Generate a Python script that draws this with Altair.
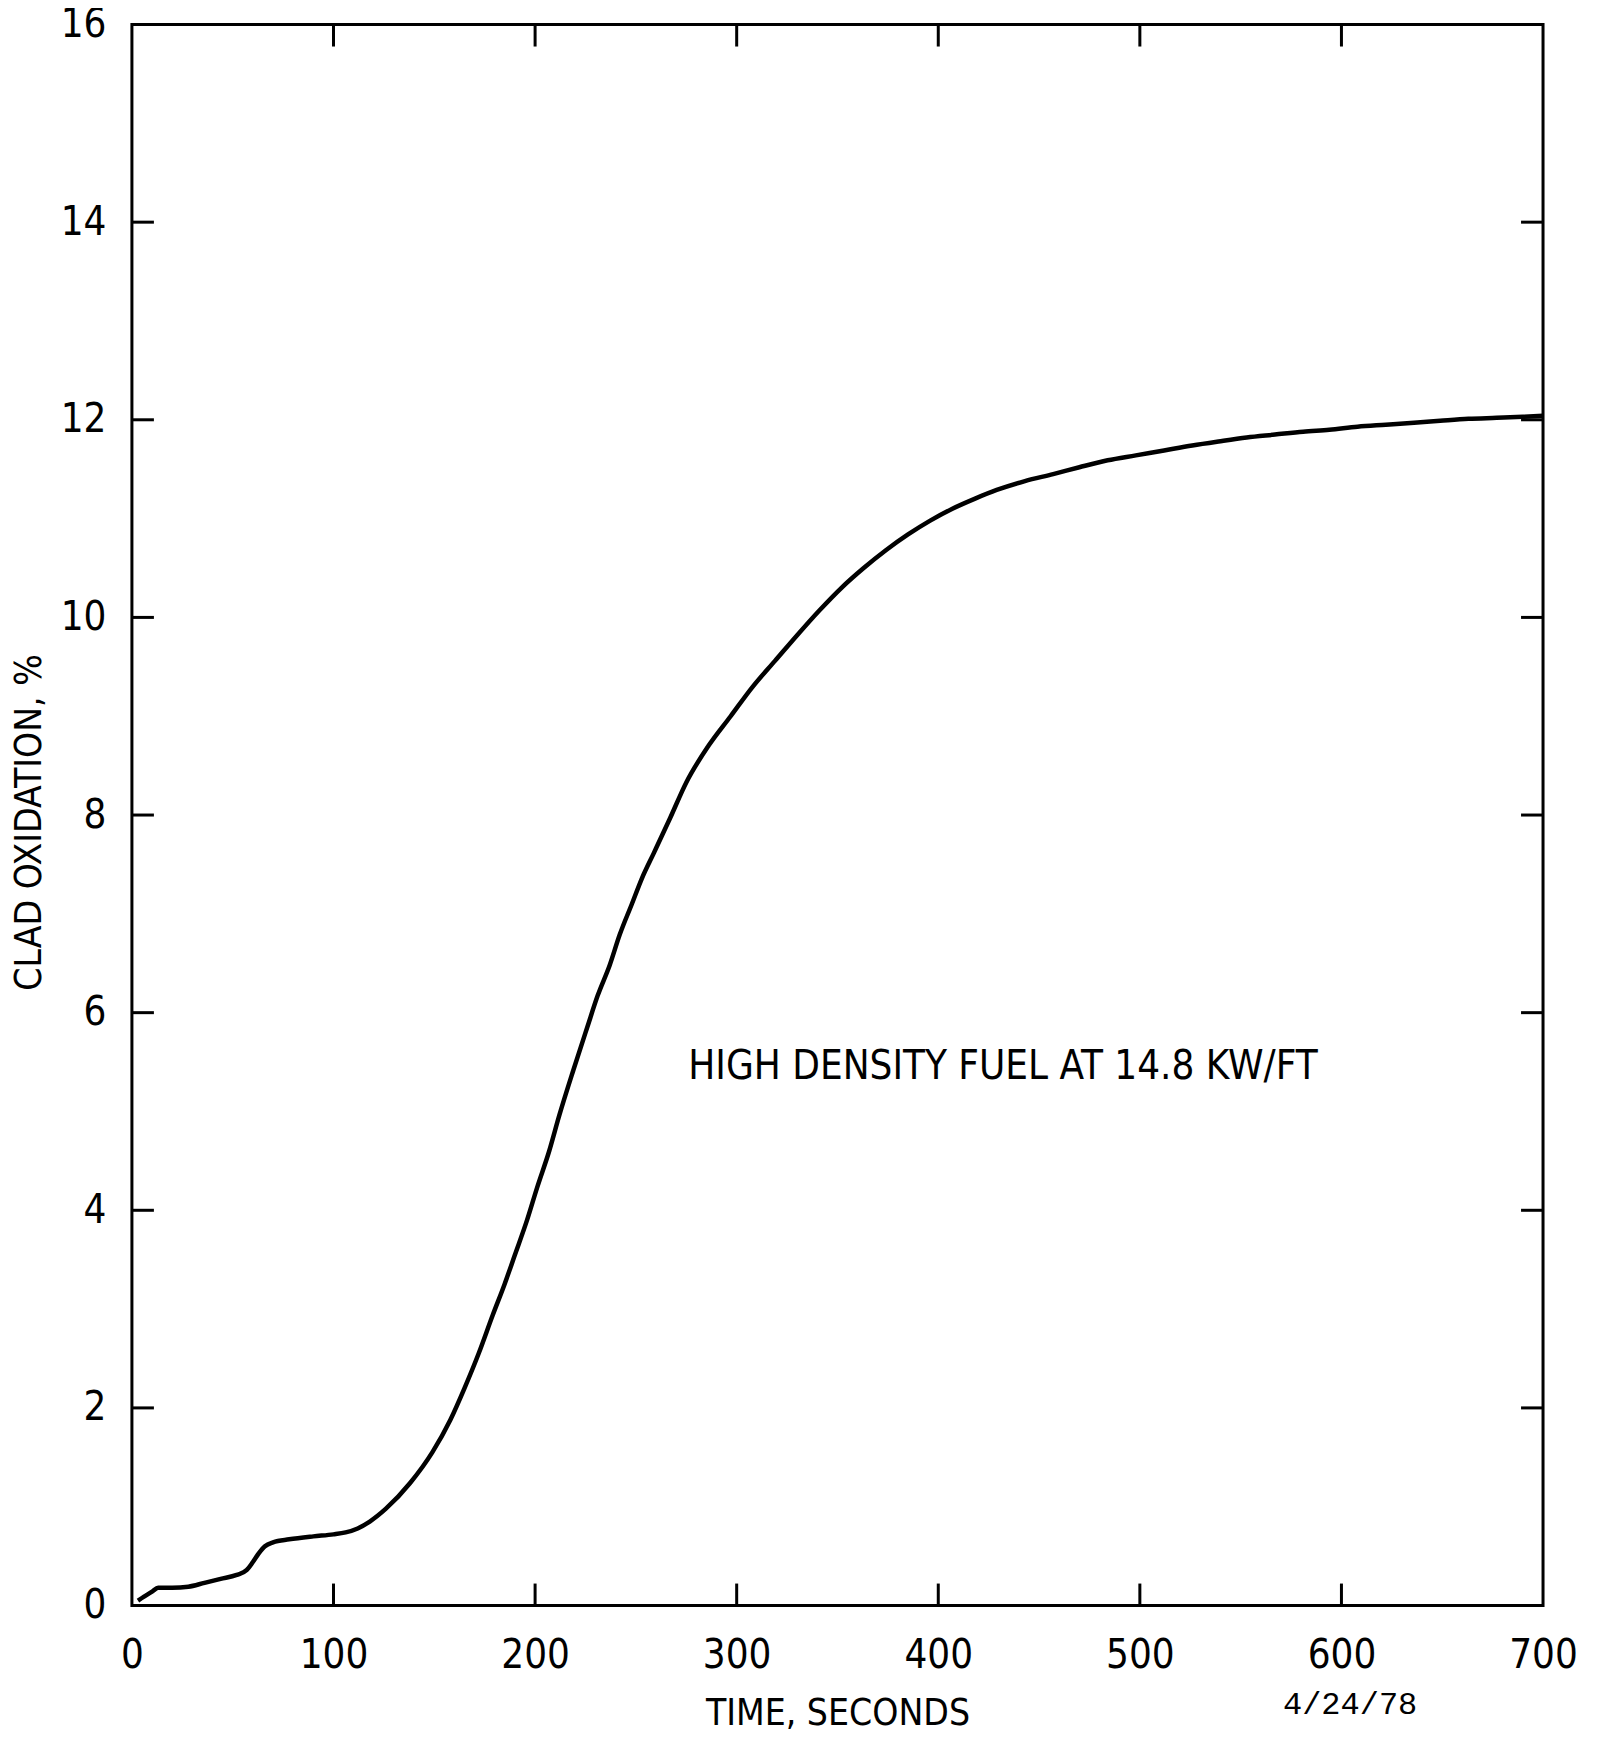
import altair as alt
import pandas as pd

# Curve (time in s, clad oxidation in %)
time_s = [3, 6, 10, 13, 20, 28, 36, 44, 52, 57, 60, 63, 66, 70, 78, 90, 100, 106, 112,
          118, 126, 138, 149, 158, 165, 172, 179, 185, 190, 196, 201, 207, 212, 219,
          226, 231, 237, 242, 248, 253, 259, 267, 275, 286, 297, 308, 319, 330, 341,
          352, 363, 374, 385, 396, 407, 418, 429, 443, 457, 470, 484, 498, 512, 526,
          539, 553, 567, 581, 594, 608, 622, 636, 649, 663, 677, 690, 700]
oxid_pct = [0.05, 0.09, 0.14, 0.18, 0.18, 0.19, 0.23, 0.27, 0.31, 0.36, 0.44, 0.53, 0.60,
            0.64, 0.67, 0.70, 0.72, 0.74, 0.78, 0.85, 0.98, 1.24, 1.55, 1.88, 2.20, 2.55,
            2.94, 3.26, 3.55, 3.90, 4.23, 4.60, 4.96, 5.42, 5.86, 6.17, 6.48, 6.79, 7.10,
            7.36, 7.62, 7.97, 8.33, 8.70, 9.00, 9.30, 9.56, 9.82, 10.07, 10.30, 10.50,
            10.68, 10.84, 10.98, 11.10, 11.20, 11.29, 11.38, 11.45, 11.52, 11.59, 11.64,
            11.69, 11.74, 11.78, 11.82, 11.85, 11.88, 11.90, 11.93, 11.95, 11.97, 11.99,
            12.01, 12.02, 12.03, 12.04]

x_ticks = [0, 100, 200, 300, 400, 500, 600, 700]
y_ticks = [0, 2, 4, 6, 8, 10, 12, 14, 16]
inner_x_ticks = [100, 200, 300, 400, 500, 600]
inner_y_ticks = [2, 4, 6, 8, 10, 12, 14]

x_title = "TIME, SECONDS"
y_title = "CLAD OXIDATION, %"
note_text = ["HIGH DENSITY FUEL AT 14.8 KW/FT"]
note_x = [276]
note_y = [5.45]
date_text = ["4/24/78"]
date_x = [571]
date_y = [-1.0]

W, H = 1412, 1582
TICK = 22
FONT = "DejaVu Sans Condensed, Liberation Sans Narrow, DejaVu Sans, sans-serif"

curve = pd.DataFrame({"t": time_s, "ox": oxid_pct})
xt = pd.DataFrame({"v": inner_x_ticks})
yt = pd.DataFrame({"v": inner_y_ticks})
note = pd.DataFrame({"x": note_x, "y": note_y, "label": note_text})
date = pd.DataFrame({"x": date_x, "y": date_y, "label": date_text})

xscale = alt.Scale(domain=[0, 700], nice=False, zero=False)
yscale = alt.Scale(domain=[0, 16], nice=False, zero=False)

line = alt.Chart(curve).mark_line(
    color="black", strokeWidth=4.5, interpolate="monotone"
).encode(
    x=alt.X("t:Q", scale=xscale, title=x_title,
            axis=alt.Axis(values=x_ticks, format="d", ticks=False, domain=False, grid=False,
                          labelFontSize=40, labelFont=FONT, labelColor="black",
                          labelPadding=30, labelFlush=False,
                          titleFontSize=37, titleFont=FONT, titleFontWeight="normal",
                          titleColor="black", titleBaseline="top", titleY=90)),
    y=alt.Y("ox:Q", scale=yscale, title=y_title,
            axis=alt.Axis(values=y_ticks, format="d", ticks=False, domain=False, grid=False,
                          labelFontSize=40, labelFont=FONT, labelColor="black",
                          labelPadding=26, labelFlush=False,
                          titleFontSize=37, titleFont=FONT, titleFontWeight="normal",
                          titleColor="black", titleAngle=270, titleAlign="center",
                          titleBaseline="middle", titleX=-102, titleY=798)),
)

bottom_ticks = alt.Chart(xt).mark_rule(color="black", strokeWidth=3).encode(
    x=alt.X("v:Q", scale=xscale), y=alt.value(H), y2=alt.value(H - TICK))
top_ticks = alt.Chart(xt).mark_rule(color="black", strokeWidth=3).encode(
    x=alt.X("v:Q", scale=xscale), y=alt.value(0), y2=alt.value(TICK))
left_ticks = alt.Chart(yt).mark_rule(color="black", strokeWidth=3).encode(
    y=alt.Y("v:Q", scale=yscale), x=alt.value(0), x2=alt.value(TICK))
right_ticks = alt.Chart(yt).mark_rule(color="black", strokeWidth=3).encode(
    y=alt.Y("v:Q", scale=yscale), x=alt.value(W), x2=alt.value(W - TICK))

note_mark = alt.Chart(note).mark_text(
    align="left", baseline="middle", fontSize=40, font=FONT, color="black"
).encode(x=alt.X("x:Q", scale=xscale), y=alt.Y("y:Q", scale=yscale), text="label:N")

date_mark = alt.Chart(date).mark_text(
    align="left", baseline="middle", fontSize=32,
    font="Liberation Mono, DejaVu Sans Mono, monospace", color="black"
).encode(x=alt.X("x:Q", scale=xscale), y=alt.Y("y:Q", scale=yscale), text="label:N")

chart = alt.layer(
    line, bottom_ticks, top_ticks, left_ticks, right_ticks, note_mark, date_mark
).properties(
    width=W, height=H,
    autosize=alt.AutoSizeParams(type="none"),
    padding={"left": 124, "top": 16, "right": 46, "bottom": 132},
    background="white",
).configure_view(
    stroke="black", strokeWidth=3
)

chart.save("out.html", embed_options={"renderer": "svg", "actions": False})
